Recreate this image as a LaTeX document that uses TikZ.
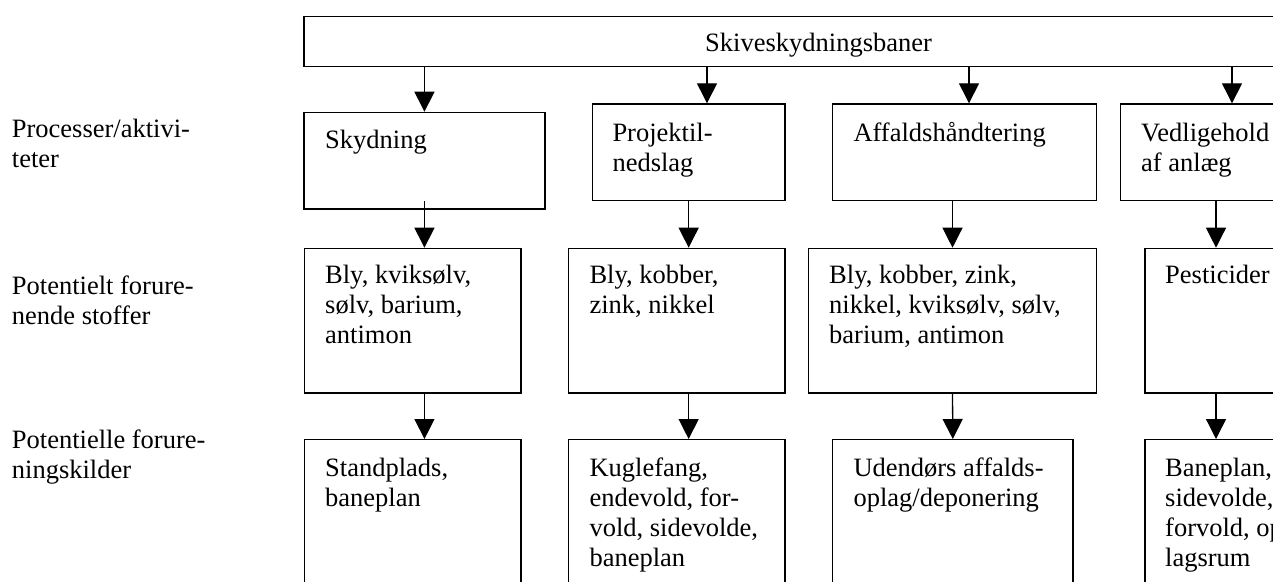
\documentclass[tikz,border=0pt]{standalone}
\usepackage{fontspec}
\setmainfont{Liberation Serif}
\usetikzlibrary{arrows.meta}
% left-aligned lines whose reference point is the first baseline
\newcommand\boxlines[1]{\begin{tabular}[t]{@{}l@{}}#1\end{tabular}}
\begin{document}
\begin{tikzpicture}[x=1pt,y=-1pt,
  box/.style={draw, line width=1.3pt, rectangle, inner sep=0pt, anchor=north west},
  txt/.style={anchor=base west, inner sep=0pt, font=\fontsize{26.5}{30}\selectfont},
  arr/.style={line width=1.3pt, -{Triangle[width=20pt,length=20pt]}}]
\useasboundingbox (0,0) rectangle (1273,581);
\begin{scope}
\clip (0,0) rectangle (1273,581);
% header
\node[box, minimum width=1020pt, minimum height=50.3pt] (top) at (303.3,15.7) {};
\node[txt] (toptxt) at (705,51.7) {Skiveskydningsbaner};
% row labels
\node[txt] (lab1) at (11.7,137) {\boxlines{Processer/aktivi-\\teter}};
\node[txt] (lab2) at (11.7,294) {\boxlines{Potentielt forure-\\nende stoffer}};
\node[txt] (lab3) at (11.7,448.3) {\boxlines{Potentielle forure-\\ningskilder}};
% processes
\node[box, minimum width=241pt, minimum height=96.6pt] (skyd) at (303.3,111.7) {};
\node[box, minimum width=192.6pt, minimum height=96.7pt] (proj) at (591.7,103.3) {};
\node[box, minimum width=264pt, minimum height=96.7pt] (affa) at (832,103.3) {};
\node[box, minimum width=220pt, minimum height=96.7pt] (vedl) at (1120,103.3) {};
% substances
\node[box, minimum width=216.6pt, minimum height=144.6pt] (bly1) at (303.7,247.7) {};
\node[box, minimum width=216.3pt, minimum height=144.6pt] (bly2) at (568,247.7) {};
\node[box, minimum width=288.3pt, minimum height=144.6pt] (bly3) at (807.7,247.7) {};
\node[box, minimum width=200pt, minimum height=144.6pt] (pest) at (1144.3,247.7) {};
% sources
\node[box, minimum width=216.6pt, minimum height=170pt] (std) at (303.7,439) {};
\node[box, minimum width=216.3pt, minimum height=170pt] (kug) at (568,439) {};
\node[box, minimum width=240.3pt, minimum height=170pt] (ude) at (832,439) {};
\node[box, minimum width=200pt, minimum height=170pt] (ban) at (1144.3,439) {};
% box texts
\node[txt] (t1) at ([shift={(21.7,36.5)}]skyd.north west) {Skydning};
\node[txt] (t2) at ([shift={(20.6,38.3)}]proj.north west) {\boxlines{Projektil-\\nedslag}};
\node[txt] (t3) at ([shift={(21.3,38.3)}]affa.north west) {Affaldshåndtering};
\node[txt] (t4) at ([shift={(21,38.3)}]vedl.north west) {\boxlines{Vedligehold\\af anlæg}};
\node[txt] (t5) at ([shift={(21.3,35.6)}]bly1.north west) {\boxlines{Bly, kviksølv,\\sølv, barium,\\antimon}};
\node[txt] (t6) at ([shift={(21.3,35.6)}]bly2.north west) {\boxlines{Bly, kobber,\\zink, nikkel}};
\node[txt] (t7) at ([shift={(21.3,35.6)}]bly3.north west) {\boxlines{Bly, kobber, zink,\\nikkel, kviksølv, sølv,\\barium, antimon}};
\node[txt] (t8) at ([shift={(20.7,35.6)}]pest.north west) {Pesticider};
\node[txt] (t9) at ([shift={(21.3,37.7)}]std.north west) {\boxlines{Standplads,\\baneplan}};
\node[txt] (t10) at ([shift={(21.3,37.7)}]kug.north west) {\boxlines{Kuglefang,\\endevold, for-\\vold, sidevolde,\\baneplan}};
\node[txt] (t11) at ([shift={(21.3,37.7)}]ude.north west) {\boxlines{Udendørs affalds-\\oplag/deponering}};
\node[txt] (t12) at ([shift={(20.7,37.7)}]ban.north west) {\boxlines{Baneplan,\\sidevolde,\\forvold, op-\\lagsrum}};
% connectors
\draw[arr] (top.south -| skyd.north) -- (skyd.north);
\draw[arr] (707,0 |- top.south) -- (707,0 |- proj.north);
\draw[arr] (969,0 |- top.south) -- (969,0 |- affa.north);
\draw[arr] (1232,0 |- top.south) -- (1232,0 |- vedl.north);
\draw[arr] (skyd.south |- proj.south) -- (skyd.south |- bly1.north);
\draw[arr] (proj.south) -- (proj.south |- bly2.north);
\draw[arr] (bly3.north |- affa.south) -- (bly3.north);
\draw[arr] (1216,0 |- vedl.south) -- (1216,0 |- pest.north);
\draw[arr] (skyd.south |- bly1.south) -- (skyd.south |- std.north);
\draw[arr] (proj.south |- bly2.south) -- (proj.south |- kug.north);
\draw[arr] (bly3.south) -- (ude.north);
\draw[arr] (1216,0 |- pest.south) -- (1216,0 |- ban.north);
\end{scope}
\end{tikzpicture}
\end{document}
